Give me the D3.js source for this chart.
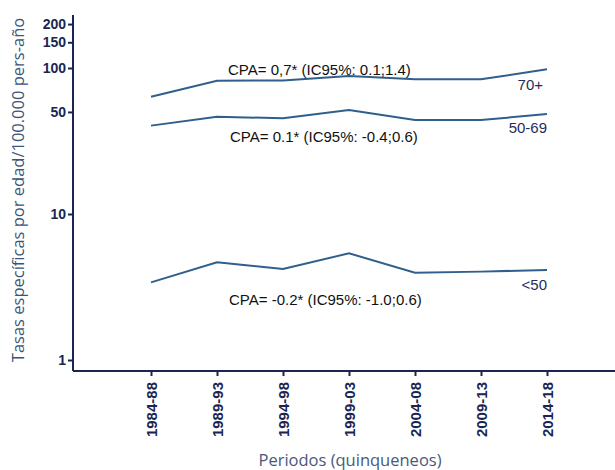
<!DOCTYPE html>
<meta charset="utf-8">
<title>Tasas especificas</title>
<style>
  body { margin: 0; background: #fff; }
  .tick text { font-family: "Liberation Sans", Arial, sans-serif; font-weight: bold; fill: #1c2550; }
  .title { font-family: "Open Sans", sans-serif; fill: #3d5478; }
  .cpa { font-family: "Liberation Sans", Arial, sans-serif; font-size: 15px; fill: #111; }
  .grp { font-family: "Liberation Sans", Arial, sans-serif; font-size: 15px; fill: #1f2d5a; text-anchor: end; }
</style>
<body>
<script src="https://cdn.jsdelivr.net/npm/d3@7"></script>
<script>

// data
var periods = ["1984-88", "1989-93", "1994-98", "1999-03", "2004-08", "2009-13", "2014-18"];
var rate70 = [63.6, 81.9, 82, 88, 83.7, 83.7, 98];
var rate5069 = [40.3, 46.4, 45.2, 51.6, 44, 44, 48.4];
var rate50 = [3.4, 4.67, 4.2, 5.38, 3.96, 4.03, 4.14];
var yTicks = [1, 10, 50, 100, 150, 200];

var margin = {top: 15, right: 0, bottom: 99, left: 73};
var width = 615 - margin.left - margin.right;
var height = 470 - margin.top - margin.bottom;

var svg = d3.select("body").append("svg")
    .attr("width", 615)
    .attr("height", 470);

var g = svg.append("g")
    .attr("transform", "translate(" + margin.left + "," + margin.top + ")");

var x = d3.scalePoint().domain(periods).range([78, 474]);
// log scale: 1 at 360px, 100 at 68px (page coords)
var y = d3.scaleLog().domain([1, 100]).range([360 - margin.top, 68 - margin.top]);

// axes
var yAxis = g.append("g")
    .call(d3.axisLeft(y).tickValues(yTicks).tickFormat(d3.format("d")).tickSize(5).tickSizeOuter(0));
yAxis.select(".domain").remove();
yAxis.selectAll(".tick line").attr("stroke", "#1c2550").attr("stroke-width", 2);
yAxis.selectAll(".tick text").style("font-size", "14px").attr("x", -7);
g.append("line")
    .attr("x1", 0).attr("x2", 0)
    .attr("y1", 0).attr("y2", height)
    .attr("stroke", "#1c2550").attr("stroke-width", 2);

var xAxis = g.append("g")
    .attr("transform", "translate(0," + height + ")")
    .call(d3.axisBottom(x).tickSize(5).tickSizeOuter(0));
xAxis.select(".domain").remove();
xAxis.selectAll(".tick line").attr("stroke", "#1c2550").attr("stroke-width", 2);
xAxis.selectAll(".tick text")
    .style("font-size", "15px")
    .attr("transform", "rotate(-90)")
    .attr("text-anchor", "end")
    .attr("x", -11)
    .attr("y", 0)
    .attr("dy", "0.35em");
g.append("line")
    .attr("x1", 0).attr("x2", width)
    .attr("y1", height).attr("y2", height)
    .attr("stroke", "#1c2550").attr("stroke-width", 2);

// lines
var line = d3.line()
    .x(function(d, i) { return x(periods[i]); })
    .y(function(d) { return y(d); });

[rate70, rate5069, rate50].forEach(function(s) {
  g.append("path")
    .datum(s)
    .attr("fill", "none")
    .attr("stroke", "#2f5f8c")
    .attr("stroke-width", 2)
    .attr("d", line);
});

// annotations
var xr = x(periods[6]);
g.append("text").attr("class", "grp").attr("x", xr - 4).attr("y", y(rate70[6]) + 21).text("70+");
g.append("text").attr("class", "grp").attr("x", xr).attr("y", y(rate5069[6]) + 19).text("50-69");
g.append("text").attr("class", "grp").attr("x", xr).attr("y", y(rate50[6]) + 20).text("<50");

g.append("text").attr("class", "cpa").attr("x", 228 - margin.left).attr("y", 75 - margin.top)
    .text("CPA= 0,7* (IC95%: 0.1;1.4)");
g.append("text").attr("class", "cpa").attr("x", 230 - margin.left).attr("y", 142 - margin.top)
    .text("CPA= 0.1* (IC95%: -0.4;0.6)");
g.append("text").attr("class", "cpa").attr("x", 229 - margin.left).attr("y", 305 - margin.top)
    .text("CPA= -0.2* (IC95%: -1.0;0.6)");

// axis titles
svg.append("text")
    .attr("class", "title")
    .attr("transform", "translate(24,190) rotate(-90)")
    .attr("text-anchor", "middle")
    .style("font-size", "16.5px")
    .text("Tasas específicas por edad/100.000 pers-año");

svg.append("text")
    .attr("class", "title")
    .attr("x", 350)
    .attr("y", 466)
    .attr("text-anchor", "middle")
    .style("font-size", "16.5px")
    .style("fill", "#4a5878")
    .text("Periodos (quinqueneos)");

</script>
</body>
